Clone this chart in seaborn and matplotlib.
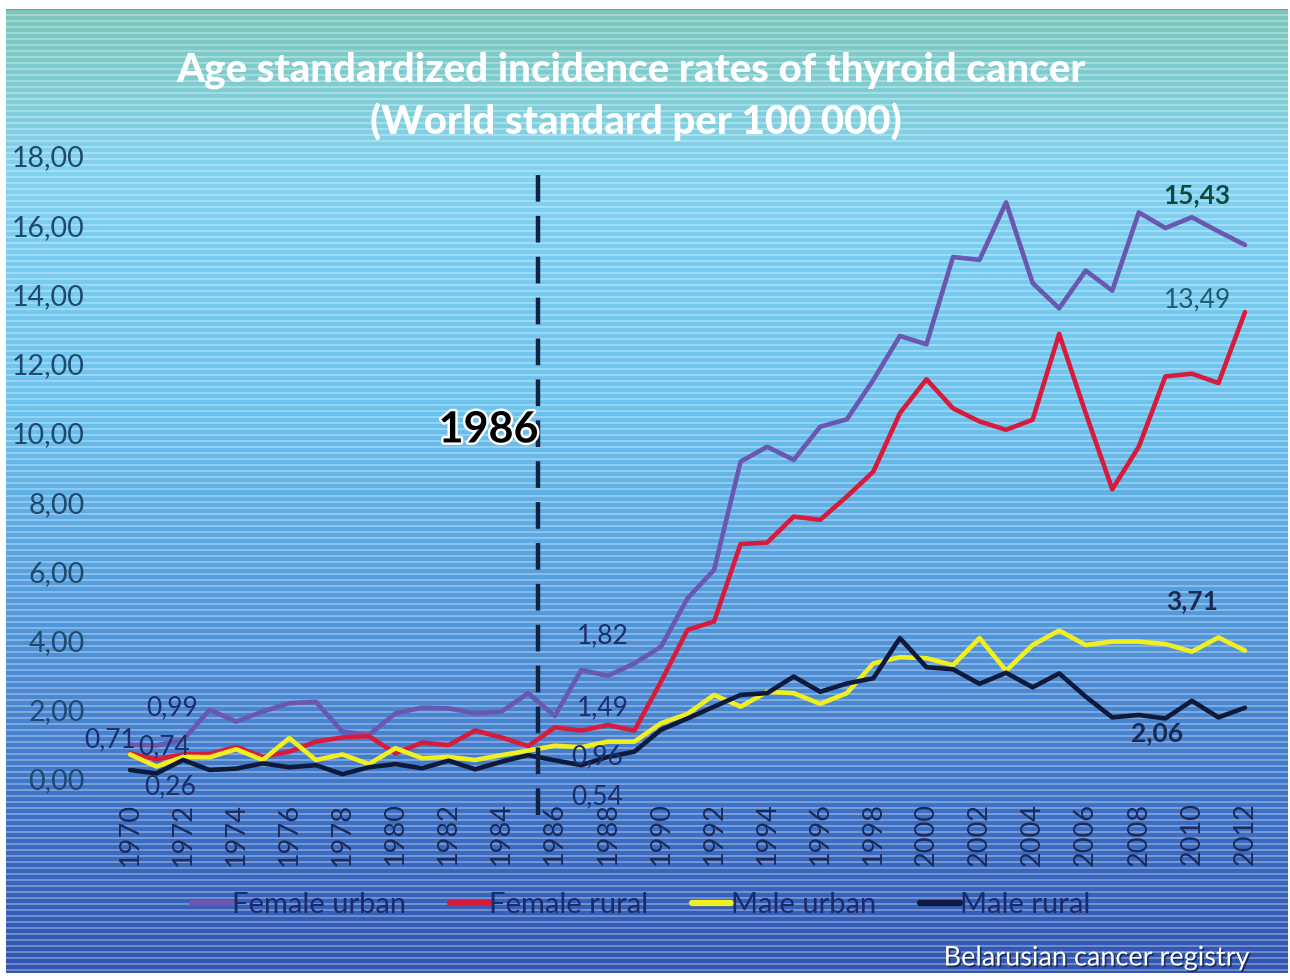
import numpy as np
import pandas as pd
import matplotlib
matplotlib.use("Agg")
import matplotlib.pyplot as plt
import matplotlib.patheffects as pe
from matplotlib.lines import Line2D
import seaborn as sns

# ---------------- data ----------------
years = list(range(1970, 2013))
female_urban = [0.99, 0.97, 1.13, 2.00, 1.66, 1.95, 2.19, 2.23, 1.37, 1.27,
                1.90, 2.06, 2.04, 1.90, 1.95, 2.48, 1.82, 3.15, 2.98, 3.34,
                3.82, 5.22, 6.04, 9.17, 9.60, 9.22, 10.18, 10.39, 11.53, 12.80,
                12.56, 15.08, 15.00, 16.66, 14.33, 13.60, 14.69, 14.11, 16.37, 15.92,
                16.23, 15.82, 15.43]
female_rural = [0.74, 0.57, 0.71, 0.72, 0.93, 0.64, 0.79, 1.08, 1.20, 1.24,
                0.74, 1.05, 0.98, 1.40, 1.20, 0.95, 1.49, 1.40, 1.56, 1.40,
                2.81, 4.31, 4.55, 6.79, 6.83, 7.58, 7.49, 8.16, 8.88, 10.57,
                11.55, 10.71, 10.33, 10.09, 10.38, 12.86, 10.57, 8.37, 9.60, 11.63,
                11.71, 11.44, 13.49]
male_urban = [0.71, 0.36, 0.64, 0.63, 0.86, 0.55, 1.18, 0.55, 0.71, 0.43,
              0.89, 0.60, 0.64, 0.55, 0.69, 0.82, 0.96, 0.92, 1.08, 1.08,
              1.61, 1.88, 2.43, 2.09, 2.52, 2.48, 2.17, 2.48, 3.34, 3.52,
              3.49, 3.29, 4.07, 3.13, 3.87, 4.29, 3.87, 3.97, 3.97, 3.90,
              3.68, 4.09, 3.71]
male_rural = [0.26, 0.16, 0.55, 0.26, 0.30, 0.45, 0.34, 0.40, 0.14, 0.34,
              0.43, 0.31, 0.53, 0.28, 0.50, 0.69, 0.54, 0.40, 0.64, 0.79,
              1.42, 1.75, 2.09, 2.43, 2.48, 2.96, 2.52, 2.76, 2.91, 4.07,
              3.23, 3.17, 2.75, 3.07, 2.65, 3.05, 2.38, 1.78, 1.85, 1.75,
              2.26, 1.78, 2.06]

series_names = ["Female urban", "Female rural", "Male urban", "Male rural"]
series_colors = ["#6a58b0", "#d81b3a", "#f2ef1e", "#0e1a3c"]
y_ticks = [0, 2, 4, 6, 8, 10, 12, 14, 16, 18]
y_tick_labels = ["0,00", "2,00", "4,00", "6,00", "8,00", "10,00",
                 "12,00", "14,00", "16,00", "18,00"]
x_tick_years = list(range(1970, 2013, 2))
event_year = 1985.37
event_label = "1986"
title_lines = ["Age standardized incidence rates of thyroid cancer",
               "(World standard per 100 000)"]
source = "Belarusian cancer registry"

df = pd.DataFrame({
    "year": years * 4,
    "rate": female_urban + female_rural + male_urban + male_rural,
    "series": sum([[n] * len(years) for n in series_names], []),
})

# ---------------- figure ----------------
sns.set_theme(style="white")
plt.rcParams["font.family"] = ["Lato", "DejaVu Sans"]

W, H = 1290, 980
fig = plt.figure(figsize=(W / 100, H / 100), dpi=100, facecolor="white")

# background gradient with horizontal stripes
bg_ax = fig.add_axes([6 / W, 7 / H, (W - 8) / W, (H - 16) / H], zorder=-5)
rows = H - 16
stops_y = np.array([0, 90, 160, 400, 600, 800, rows]) / rows
stops_c = np.array([
    [122, 198, 186],
    [128, 206, 214],
    [130, 210, 242],
    [108, 195, 238],
    [84, 154, 220],
    [62, 114, 198],
    [48, 84, 176],
]) / 255.0
t = np.linspace(0, 1, rows)
col = np.stack([np.interp(t, stops_y, stops_c[:, k]) for k in range(3)], axis=1)
r = np.arange(rows)
stripe = (r % 6 == 0) | (r % 6 == 1)
col[stripe] = col[stripe] * 0.70 + 0.30
col[0:2] = np.array([0.55, 0.55, 0.55])
img = np.repeat(col[:, None, :], 8, axis=1)
bg_ax.imshow(img, aspect="auto", interpolation="nearest", extent=[0, 1, 0, 1])
bg_ax.axis("off")

# main plotting axes
x0, x1 = 1969.5, 2012.5
px_left = 130 - 0.5 * 26.55
px_right = 1245 + 0.5 * 26.55
ax = fig.add_axes([px_left / W, (H - 779) / H, (px_right - px_left) / W, (779 - 156) / H])
ax.patch.set_alpha(0)

sns.lineplot(data=df, x="year", y="rate", hue="series", hue_order=series_names,
             palette=dict(zip(series_names, series_colors)), linewidth=3.3,
             ax=ax, legend=False)

ax.set_xlim(x0, x1)
ax.set_ylim(0, 18)
for s in ax.spines.values():
    s.set_visible(False)
ax.set_xlabel("")
ax.set_ylabel("")
ax.set_yticks(y_ticks)
ax.set_yticklabels(y_tick_labels, fontsize=20.5, color="#1d4a6e")
ax.set_xticks(x_tick_years)
ax.set_xticklabels([str(y) for y in x_tick_years], rotation=90, fontsize=19.5,
                   color="#1a2a5a")
ax.tick_params(axis="y", length=0, pad=23)
ax.tick_params(axis="x", length=0, pad=17)
ax.grid(False)

# event line
ax.plot([event_year, event_year], [-1.05, 17.45], color="#0e2442", lw=3.2,
        dashes=(6, 3.2), clip_on=False, zorder=5)
ax.text(1983.5, 10.1, event_label, fontsize=31, fontweight="bold", color="black",
        ha="center", va="center", zorder=6,
        path_effects=[pe.withStroke(linewidth=3.5, foreground="white")])

# value labels
lab_c = "#1a2f6a"
labels = [
    (1969.25, 1.13, "0,71", lab_c, "normal"),
    (1971.3, 0.92, "0,74", lab_c, "normal"),
    (1971.6, 2.05, "0,99", lab_c, "normal"),
    (1971.5, -0.23, "0,26", lab_c, "normal"),
    (1987.8, 4.13, "1,82", lab_c, "normal"),
    (1987.8, 2.05, "1,49", lab_c, "normal"),
    (1987.6, 0.64, "0,96", lab_c, "normal"),
    (1987.6, -0.52, "0,54", lab_c, "normal"),
    (2010.2, 16.88, "15,43", "#0f4a40", "bold"),
    (2010.2, 13.84, "13,49", "#1f5a70", "normal"),
    (2010.0, 5.14, "3,71", "#1a2a50", "bold"),
    (2008.7, 1.33, "2,06", "#1a2a50", "bold"),
]
for lx, ly, txt, c, fw in labels:
    ax.text(lx, ly, txt, fontsize=19, color=c, fontweight=fw, ha="center",
            va="center", zorder=7, clip_on=False)

# title
fig.text(631 / W, 1 - 70 / H, title_lines[0], fontsize=29, fontweight="black",
         color="white", ha="center", va="center")
fig.text(636 / W, 1 - 122 / H, title_lines[1], fontsize=29, fontweight="black",
         color="white", ha="center", va="center")

# legend
handles = [Line2D([0], [0], color=c, lw=4.5) for c in series_colors]
leg = fig.legend(handles, series_names, loc="center", bbox_to_anchor=(641 / W, 1 - 905 / H),
                 ncol=4, frameon=False, fontsize=21, handlelength=1.35,
                 handletextpad=0.0, columnspacing=1.5)
for tx in leg.get_texts():
    tx.set_color("#1a2a6a")

# source
fig.text(1250 / W, 1 - 958 / H, source, fontsize=19.5, color="white", ha="right",
         va="center", path_effects=[pe.withSimplePatchShadow(offset=(1.2, -1.2),
                                                             shadow_rgbFace="#10204a",
                                                             alpha=0.8)])

fig.savefig("out.png", dpi=100, facecolor="white")
